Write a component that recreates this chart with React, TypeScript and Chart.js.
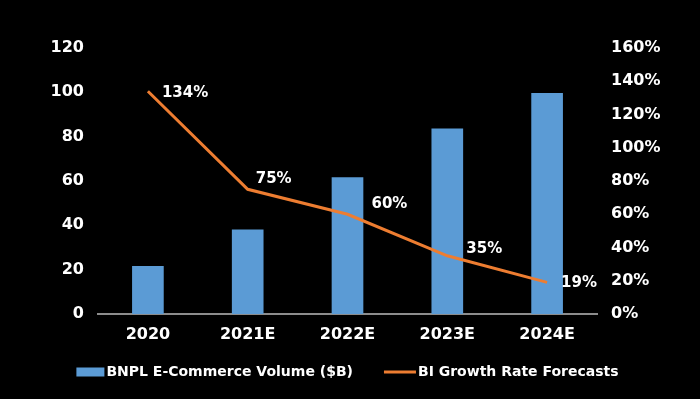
import { useEffect, useRef } from 'react';
import { Chart, registerables } from 'chart.js';

Chart.register(...registerables);

const categories = ['2020', '2021E', '2022E', '2023E', '2024E'];
const volume = [21.5, 38, 61.5, 83.5, 99.5];
const growth = [134, 75, 60, 35, 19];
const volumeLabel = 'BNPL E-Commerce Volume ($B)';
const growthLabel = 'BI Growth Rate Forecasts';

const BAR_COLOR = '#5B9BD5';
const LINE_COLOR = '#ED7D31';
const TEXT = '#FFFFFF';
const FONT = "'DejaVu Sans', Verdana, sans-serif";
// label offsets relative to each point (style only)
const labelOffsets: [number, number][] = [[14, 2], [8, -10], [24, -10], [19, -7], [14, 1]];

const overlayPlugin = {
  id: 'overlay',
  afterDatasetsDraw(chart: any) {
    const ctx = chart.ctx;
    const meta = chart.getDatasetMeta(1);
    ctx.save();
    ctx.fillStyle = TEXT;
    ctx.font = `bold 15px ${FONT}`;
    ctx.textAlign = 'left';
    ctx.textBaseline = 'middle';
    meta.data.forEach((pt: any, i: number) => {
      const [dx, dy] = labelOffsets[i] || [14, -6];
      ctx.fillText(growth[i] + '%', pt.x + dx, pt.y + dy);
    });
    ctx.restore();
  },
  afterDraw(chart: any) {
    const ctx = chart.ctx;
    const area = chart.chartArea;
    ctx.save();
    ctx.font = `bold 14px ${FONT}`;
    ctx.textBaseline = 'middle';
    ctx.textAlign = 'left';
    const boxW = 28;
    const gapText = 2;
    const gapItems = 31;
    const lineW = 32;
    const w1 = ctx.measureText(volumeLabel).width;
    const w2 = ctx.measureText(growthLabel).width;
    const total = boxW + gapText + w1 + gapItems + lineW + gapText + w2;
    let x = (area.left + area.right) / 2 - total / 2;
    const y = 372;
    ctx.fillStyle = BAR_COLOR;
    ctx.fillRect(x, y - 4.5, boxW, 9);
    x += boxW + gapText;
    ctx.fillStyle = TEXT;
    ctx.fillText(volumeLabel, x, y);
    x += w1 + gapItems;
    ctx.strokeStyle = LINE_COLOR;
    ctx.lineWidth = 3;
    ctx.beginPath();
    ctx.moveTo(x, y);
    ctx.lineTo(x + lineW, y);
    ctx.stroke();
    x += lineW + gapText;
    ctx.fillText(growthLabel, x, y);
    ctx.restore();
  },
};

export default function App() {
  const ref = useRef<HTMLCanvasElement | null>(null);
  useEffect(() => {
    document.body.style.margin = '0';
    document.body.style.background = '#000';
    const canvas = ref.current!;
    const tickFont = { family: FONT, size: 16, weight: 'bold' };
    const chart = new Chart(canvas, {
      type: 'bar',
      data: {
        labels: categories,
        datasets: [
          {
            type: 'bar',
            label: volumeLabel,
            data: volume,
            backgroundColor: BAR_COLOR,
            barThickness: 31,
            yAxisID: 'y',
            order: 2,
          },
          {
            type: 'line',
            label: growthLabel,
            data: growth,
            borderColor: LINE_COLOR,
            backgroundColor: LINE_COLOR,
            borderWidth: 3,
            pointRadius: 0,
            tension: 0,
            yAxisID: 'y1',
            order: 1,
          },
        ],
      } as any,
      options: {
        responsive: false,
        animation: false,
        devicePixelRatio: 1,
        layout: { padding: { top: 48, left: 0, right: 0, bottom: 0 } },
        plugins: {
          legend: { display: false },
          tooltip: { enabled: false },
        },
        scales: {
          x: {
            grid: { display: false, drawTicks: false },
            border: { display: true, color: '#8C8C8C', width: 2 },
            ticks: { color: TEXT, font: tickFont, padding: 11 },
            afterFit: (s: any) => { s.height = 85; },
          },
          y: {
            position: 'left',
            min: 0,
            max: 120,
            grid: { display: false, drawTicks: false },
            border: { display: false },
            ticks: { stepSize: 20, color: TEXT, font: tickFont, padding: 14 },
            afterFit: (s: any) => { s.width = 98; },
          },
          y1: {
            position: 'right',
            min: 0,
            max: 160,
            grid: { display: false, drawTicks: false },
            border: { display: false },
            ticks: {
              stepSize: 20,
              color: TEXT,
              font: tickFont,
              padding: 14,
              callback: (v: any) => v + '%',
            },
            afterFit: (s: any) => { s.width = 103; },
          },
        },
      } as any,
      plugins: [overlayPlugin],
    });
    return () => chart.destroy();
  }, []);
  return (
    <div style={{ width: 700, height: 399, background: '#000' }}>
      <canvas ref={ref} width={700} height={399} style={{ display: 'block' }} />
    </div>
  );
}
